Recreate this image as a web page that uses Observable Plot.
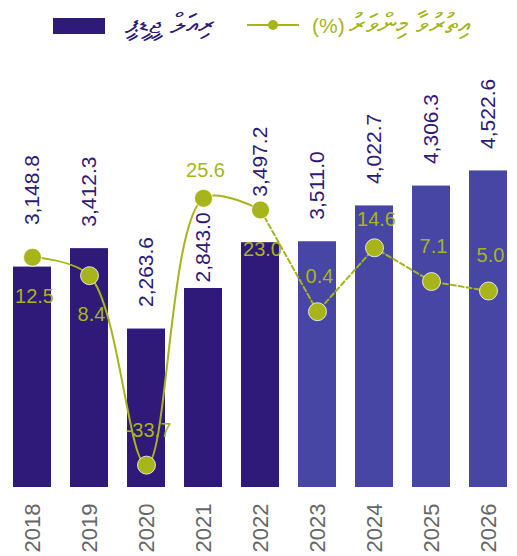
<!DOCTYPE html>
<html>
<head>
<meta charset="utf-8">
<script src="https://cdn.jsdelivr.net/npm/d3@7"></script>
<script src="https://cdn.jsdelivr.net/npm/@observablehq/plot@0.6"></script>
<style>
  body { margin: 0; background: #fff; font-family: "Liberation Sans", Arial, sans-serif; }
  #wrap { position: relative; width: 517px; height: 556px; overflow: hidden; }
  #legend { position: absolute; left: 0; top: 0; width: 517px; height: 50px; }
  .chart { position: absolute; left: 0; top: 50px; }
  .lg { position: absolute; white-space: nowrap; line-height: 30px; }
  .th { font-size: 28px; }
  .pc { font-size: 21px; }
</style>
</head>
<body>
<div id="wrap">
  <div id="legend"></div>
  <div id="c1" class="chart"></div>
  <div id="c2" class="chart"></div>
</div>
<script>
// ---- data ----
const years = ["2018", "2019", "2020", "2021", "2022", "2023", "2024", "2025", "2026"];
const values = [3148.8, 3412.3, 2263.6, 2843.0, 3497.2, 3511.0, 4022.7, 4306.3, 4522.6];
const growth = [12.5, 8.4, -33.7, 25.6, 23.0, 0.4, 14.6, 7.1, 5.0];
const status = ["actual", "actual", "actual", "actual", "actual", "projected", "projected", "projected", "projected"];
const legendBars = "ރިއަލް ޖީޑީޕީ";
const legendGrowthWords = "އިތުރުވާ މިންވަރު";
const legendGrowthUnit = "(%)";

// ---- styling ----
const dark = "#2f1979";
const light = "#4746a5";
const green = "#a7b51b";
const W = 517, H = 506;

const rows = years.map((y, i) => ({year: y, value: values[i], growth: growth[i], status: status[i]}));
const solidRows = rows.filter((d, i) => i <= 4);
const dashedRows = rows.filter((d, i) => i >= 4);

const xScale = {type: "band", domain: years, range: [2, 519], paddingInner: 0.33, paddingOuter: 0.165, axis: null};
const margins = {marginLeft: 0, marginRight: 0, marginTop: 38, marginBottom: 69};

// label placement tweaks (layout only)
const barLabelGap = {"2018": 42, "2021": 6, "2022": 46};
const growthLabelSide = {"2018": 39, "2019": 39, "2022": 40, "2021": -28, "2024": -28};

const fmt = d3.format(",.1f");

const barLabelGroups = d3.groups(rows, d => barLabelGap[d.year] ?? 22);
const growthLabelGroups = d3.groups(rows, d => growthLabelSide[d.year] ?? -35);

const plot1 = Plot.plot({
  width: W, height: H, ...margins,
  x: xScale,
  y: {domain: [0, 5700], range: [437, 38], axis: null},
  color: {domain: ["actual", "projected"], range: [dark, light]},
  style: {background: "transparent", overflow: "visible"},
  marks: [
    Plot.barY(rows, {x: "year", y: "value", fill: "status"}),
    Plot.axisX({anchor: "bottom", tickSize: 0, tickPadding: 16, tickRotate: -90, fontSize: 22, color: "#666", label: null,
                fontFamily: "Liberation Sans, Arial, sans-serif"}),
    ...barLabelGroups.map(([gap, g]) =>
      Plot.text(g, {x: "year", y: "value", text: d => fmt(d.value), rotate: -90, textAnchor: "start",
                    lineAnchor: "middle", dy: -gap, fill: dark, fontSize: 21,
                    fontFamily: "Liberation Sans, Arial, sans-serif"}))
  ]
});
document.getElementById("c1").appendChild(plot1);

const plot2 = Plot.plot({
  width: W, height: H, ...margins,
  x: xScale,
  y: {domain: [-38.67, 50], range: [437, 38], axis: null},
  style: {background: "transparent", overflow: "visible"},
  marks: [
    Plot.line(solidRows, {x: "year", y: "growth", stroke: green, strokeWidth: 2, curve: "catmull-rom"}),
    Plot.line(dashedRows, {x: "year", y: "growth", stroke: green, strokeWidth: 2, strokeDasharray: "5,3"}),
    Plot.dot(rows, {x: "year", y: "growth", r: 9, fill: green, stroke: "white", strokeWidth: 0.8}),
    ...growthLabelGroups.map(([dy, g]) =>
      Plot.text(g, {x: "year", y: "growth", text: d => d.growth.toFixed(1), dy: dy, dx: 2,
                    fill: green, fontSize: 20, lineAnchor: "middle",
                    fontFamily: "Liberation Sans, Arial, sans-serif"}))
  ]
});
document.getElementById("c2").appendChild(plot2);

// ---- legend ----
const legend = document.getElementById("legend");
legend.innerHTML = `
  <div style="position:absolute;left:53px;top:18px;width:52px;height:16px;background:${dark}"></div>
  <span class="lg th" dir="rtl" style="right:302px;top:9px;color:${dark}">${legendBars}</span>
  <svg style="position:absolute;left:246px;top:15px" width="54" height="20">
    <line x1="1" y1="10" x2="53" y2="10" stroke="${green}" stroke-width="2"/>
    <circle cx="27" cy="10" r="5" fill="${green}"/>
  </svg>
  <span class="lg" dir="rtl" style="right:47px;top:9px;color:${green}"><span class="th">${legendGrowthWords}</span> <span class="pc">${legendGrowthUnit}</span></span>
`;
</script>
</body>
</html>
